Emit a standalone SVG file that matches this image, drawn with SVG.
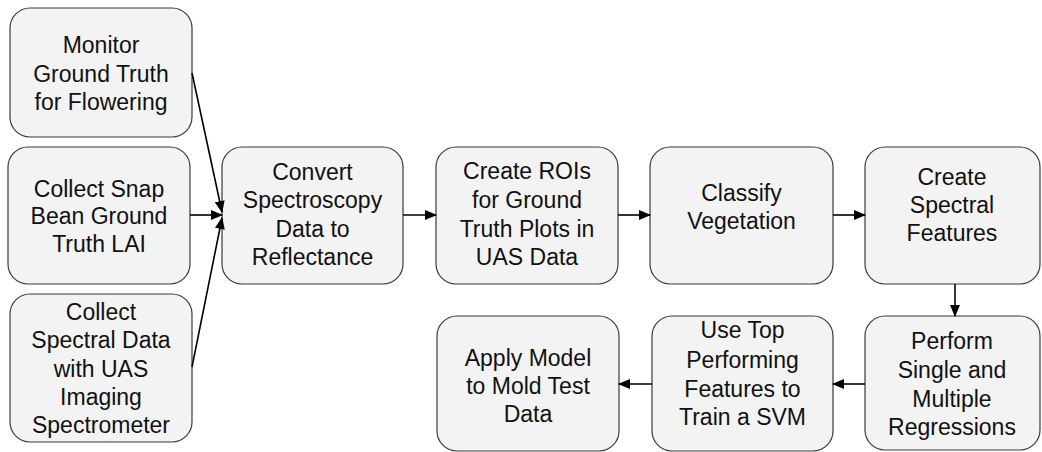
<svg xmlns="http://www.w3.org/2000/svg" width="1042" height="452" viewBox="0 0 1042 452">
  <style>
    .box { fill: #f3f3f3; stroke: #3a3a3a; stroke-width: 1.2; }
    .lbl { font-family: "Liberation Sans", Arial, sans-serif; font-size: 23px; fill: #111; text-anchor: middle; }
    .edge { stroke: #000; stroke-width: 1.6; fill: none; marker-end: url(#arrow); }
  </style>
  <defs>
    <marker id="arrow" markerUnits="userSpaceOnUse" markerWidth="12" markerHeight="10" refX="11" refY="5" orient="auto">
      <path d="M0,0 L12,5 L0,10 z" fill="#000"/>
    </marker>
  </defs>
  <rect width="1042" height="452" fill="#fff"/>

  <g id="monitor-ground-truth">
    <rect class="box" x="10" y="8" width="182" height="129" rx="20"/>
    <text class="lbl" x="101" y="53">Monitor</text>
    <text class="lbl" x="101" y="82">Ground Truth</text>
    <text class="lbl" x="101" y="110">for Flowering</text>
  </g>

  <g id="collect-lai">
    <rect class="box" x="8" y="147" width="182" height="137" rx="20"/>
    <text class="lbl" x="99" y="197">Collect Snap</text>
    <text class="lbl" x="99" y="224">Bean Ground</text>
    <text class="lbl" x="99" y="252">Truth LAI</text>
  </g>

  <g id="collect-spectral">
    <rect class="box" x="10" y="294" width="182" height="148" rx="20"/>
    <text class="lbl" x="101" y="320">Collect</text>
    <text class="lbl" x="101" y="348">Spectral Data</text>
    <text class="lbl" x="101" y="377">with UAS</text>
    <text class="lbl" x="101" y="405">Imaging</text>
    <text class="lbl" x="101" y="433">Spectrometer</text>
  </g>

  <g id="convert-reflectance">
    <rect class="box" x="222" y="147" width="181" height="137" rx="20"/>
    <text class="lbl" x="312.5" y="180">Convert</text>
    <text class="lbl" x="312.5" y="208">Spectroscopy</text>
    <text class="lbl" x="312.5" y="237">Data to</text>
    <text class="lbl" x="312.5" y="265">Reflectance</text>
  </g>

  <g id="create-rois">
    <rect class="box" x="436" y="147" width="182" height="137" rx="20"/>
    <text class="lbl" x="527" y="179">Create ROIs</text>
    <text class="lbl" x="527" y="208">for Ground</text>
    <text class="lbl" x="527" y="237">Truth Plots in</text>
    <text class="lbl" x="527" y="265">UAS Data</text>
  </g>

  <g id="classify-vegetation">
    <rect class="box" x="650" y="147" width="183" height="137" rx="20"/>
    <text class="lbl" x="741.5" y="201">Classify</text>
    <text class="lbl" x="741.5" y="229">Vegetation</text>
  </g>

  <g id="spectral-features">
    <rect class="box" x="865" y="147" width="175" height="137" rx="20"/>
    <text class="lbl" x="952" y="185">Create</text>
    <text class="lbl" x="952" y="213">Spectral</text>
    <text class="lbl" x="952" y="241">Features</text>
  </g>

  <g id="regressions">
    <rect class="box" x="865" y="316" width="175" height="134" rx="20"/>
    <text class="lbl" x="952" y="349">Perform</text>
    <text class="lbl" x="952" y="378">Single and</text>
    <text class="lbl" x="952" y="407">Multiple</text>
    <text class="lbl" x="952" y="435">Regressions</text>
  </g>

  <g id="train-svm">
    <rect class="box" x="652" y="316" width="181" height="135" rx="20"/>
    <text class="lbl" x="742.5" y="338">Use Top</text>
    <text class="lbl" x="742.5" y="368">Performing</text>
    <text class="lbl" x="742.5" y="397">Features to</text>
    <text class="lbl" x="742.5" y="425">Train a SVM</text>
  </g>

  <g id="apply-model">
    <rect class="box" x="437" y="316" width="182" height="135" rx="20"/>
    <text class="lbl" x="528" y="366">Apply Model</text>
    <text class="lbl" x="528" y="394">to Mold Test</text>
    <text class="lbl" x="528" y="422">Data</text>
  </g>

  <g id="connectors">
    <line class="edge" x1="192" y1="73" x2="222" y2="212"/>
    <line class="edge" x1="190" y1="215" x2="222" y2="215"/>
    <line class="edge" x1="192" y1="367" x2="222" y2="218"/>
    <line class="edge" x1="403" y1="215" x2="436" y2="215"/>
    <line class="edge" x1="618" y1="215" x2="650" y2="215"/>
    <line class="edge" x1="833" y1="215" x2="865" y2="215"/>
    <line class="edge" x1="955" y1="284" x2="955" y2="316"/>
    <line class="edge" x1="865" y1="384" x2="833" y2="384"/>
    <line class="edge" x1="652" y1="384" x2="619" y2="384"/>
  </g>
</svg>
